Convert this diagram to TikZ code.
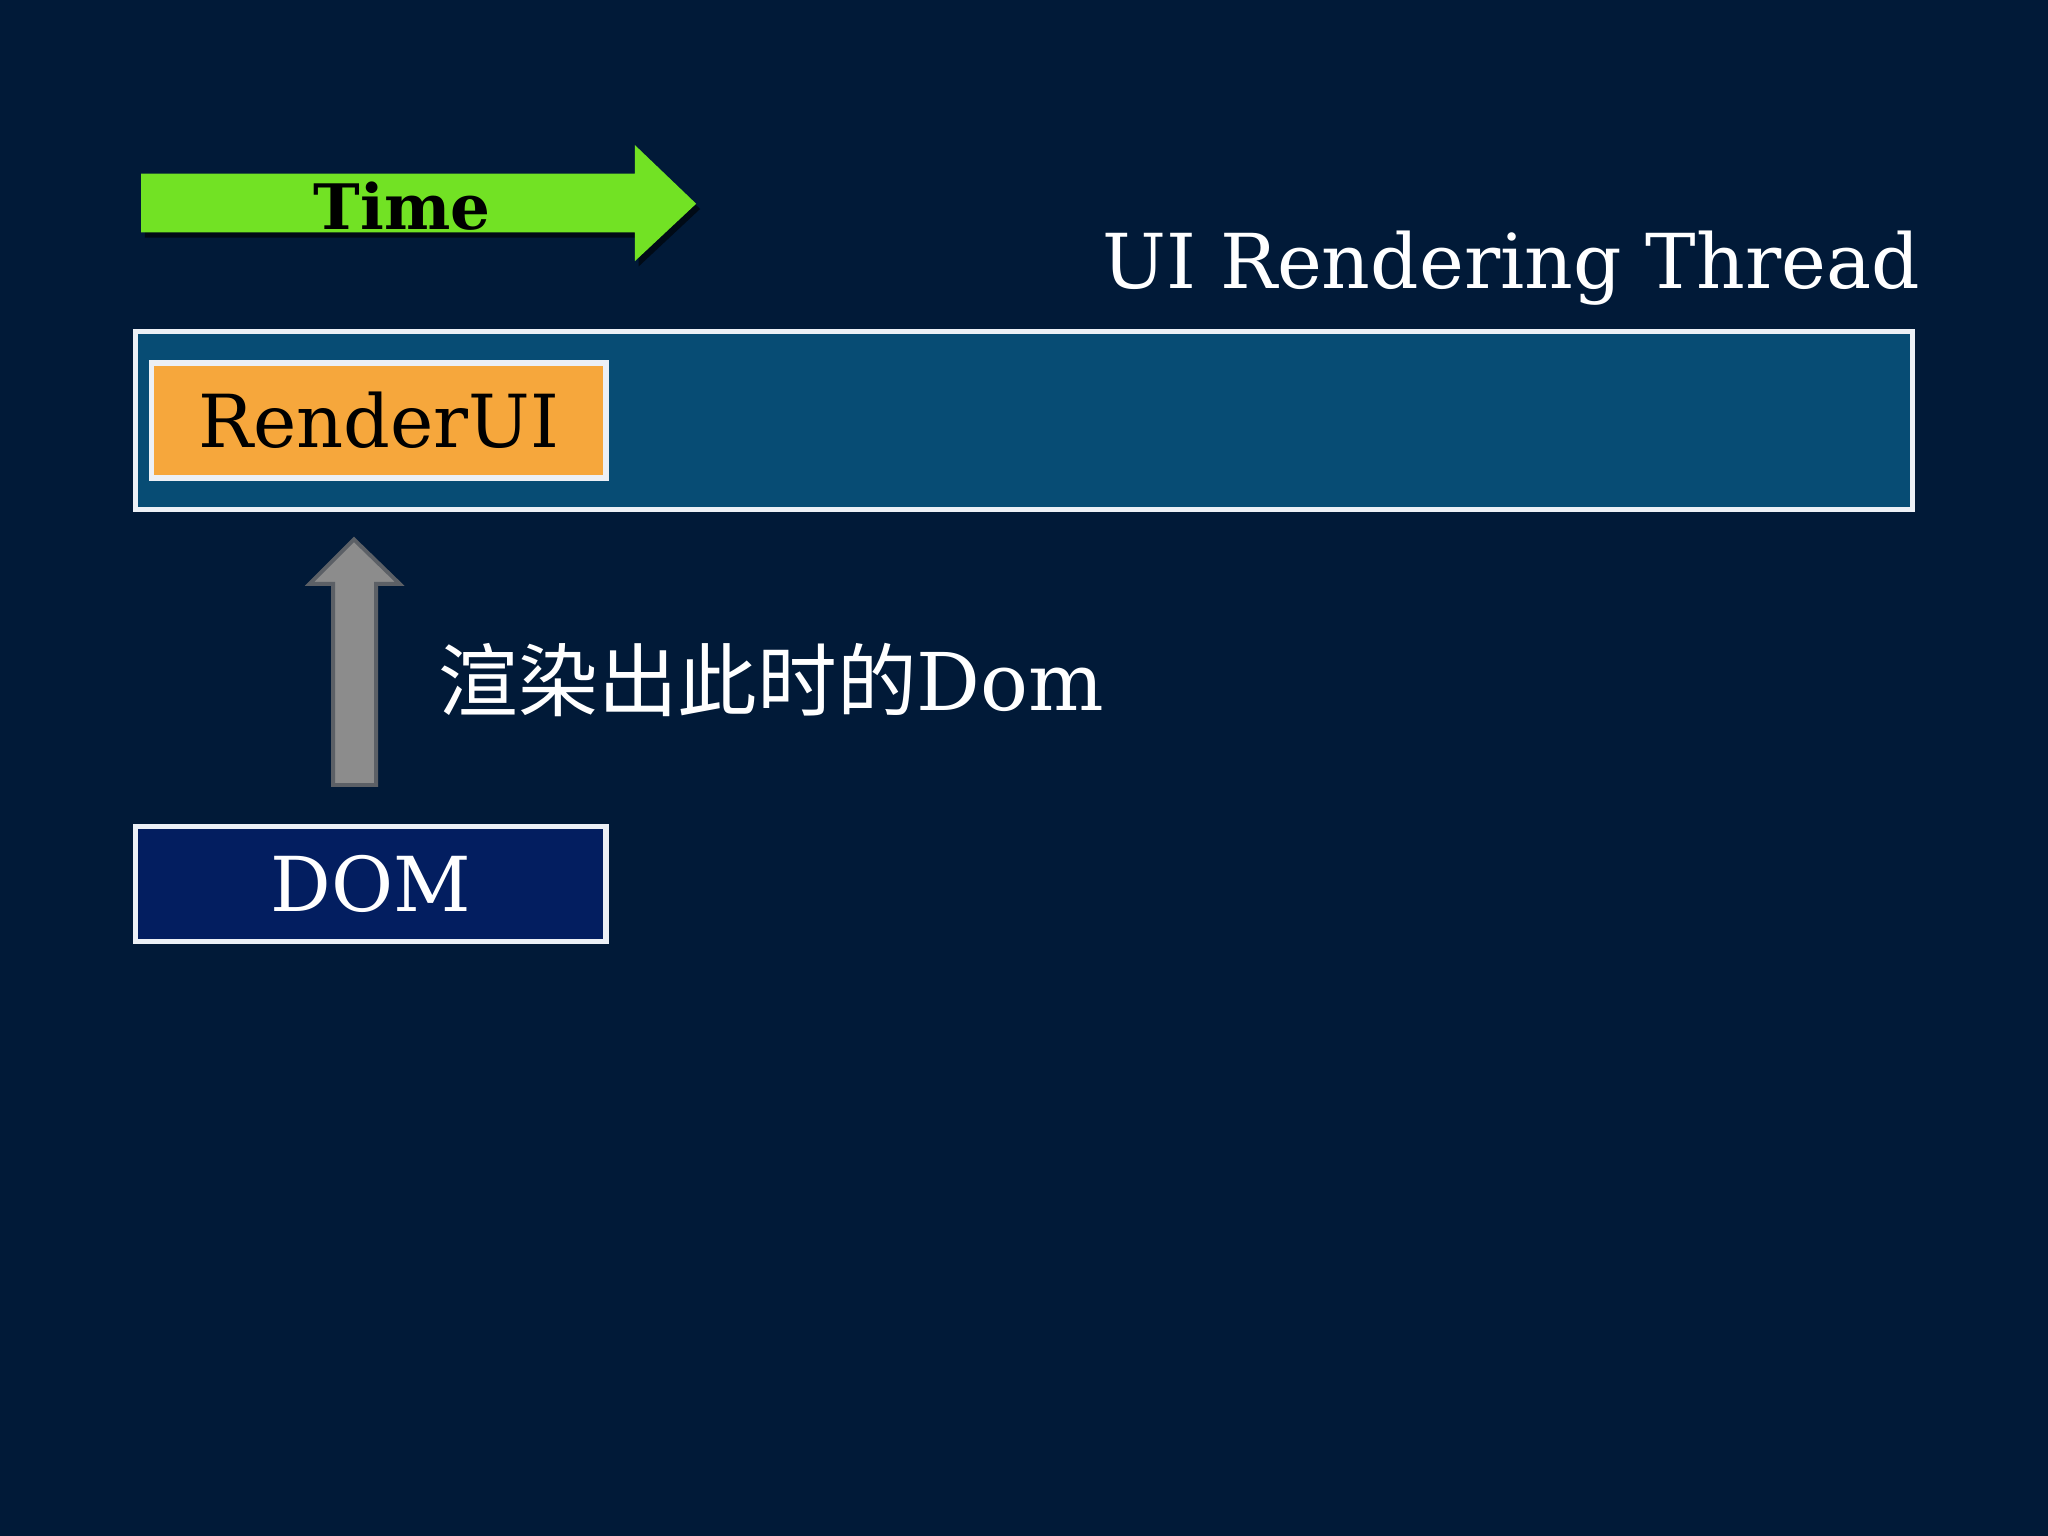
\documentclass[tikz,border=0pt]{standalone}
\usepackage{fontspec}
\setmainfont{DejaVu Serif}
\newfontfamily\cjk{Noto Sans CJK SC}
\usepackage{tikz}
\usetikzlibrary{positioning,shadows,calc}

\definecolor{slidebg}{RGB}{1,26,56}
\definecolor{threadblue}{RGB}{7,76,116}
\definecolor{renderorange}{RGB}{246,167,60}
\definecolor{domnavy}{RGB}{3,30,96}
\definecolor{timegreen}{RGB}{114,226,36}
\definecolor{upgray}{RGB}{140,140,140}
\definecolor{upedge}{RGB}{92,96,102}
\definecolor{edgewhite}{RGB}{236,240,246}

\begin{document}
\begin{tikzpicture}[x=0.5pt, y=-0.5pt,
    box/.style = {shape=rectangle, draw=edgewhite, line width=2pt,
      inner sep=0pt},
    boxtext/.style = {font=\fontsize{28}{34}\selectfont},
    timearrow/.style = {fill=timegreen,
      drop shadow={shadow xshift=1.5pt, shadow yshift=-2pt, fill=black,
        opacity=0.6}},
    uparrow/.style = {fill=upgray, draw=upedge, line width=1.5pt}]
    % background and page size
    \fill[slidebg] (0,0) rectangle (1568,1176);
    \useasboundingbox (0,0) rectangle (1568,1176);
    % time arrow
    \path[timearrow] (108,133) -- (486,133) -- (486,111) -- (533,156)
        -- (486,200) -- (486,178) -- (108,178) -- cycle;
    \node[anchor=base, font=\bfseries\fontsize{24}{28}\selectfont] (time)
        at (308,176) {Time};
    % thread bar
    \node[anchor=base east, text=white, font=\fontsize{29}{34}\selectfont]
        (title) at (1477,221) {UI Rendering Thread};
    \node[box, fill=threadblue, minimum width=680pt, minimum height=68pt]
        (thread) at (784,322) {};
    \node[box, boxtext, fill=renderorange, minimum width=174pt,
        minimum height=44pt] (render) at (290,322) {RenderUI};
    % dom
    \node[box, boxtext, fill=domnavy, text=white, minimum width=180pt,
        minimum height=44pt, font=\fontsize{29}{34}\selectfont]
        (dom) at (284,677) {DOM};
    \coordinate (uptail) at (271,601);
    \coordinate (uptip) at (271,413);
    \draw[uparrow] ($(uptail)+(-16,0)$) -- ($(uptip)+(-16,34)$)
        -- ($(uptip)+(-34,34)$) -- (uptip) -- ($(uptip)+(35,34)$)
        -- ($(uptip)+(17,34)$) -- ($(uptail)+(17,0)$) -- cycle;
    \node[anchor=base west, text=white, font=\fontsize{30.5}{36}\selectfont]
        (label) at (329,544) {{\cjk 渲染出此时的}Dom};
\end{tikzpicture}
\end{document}
